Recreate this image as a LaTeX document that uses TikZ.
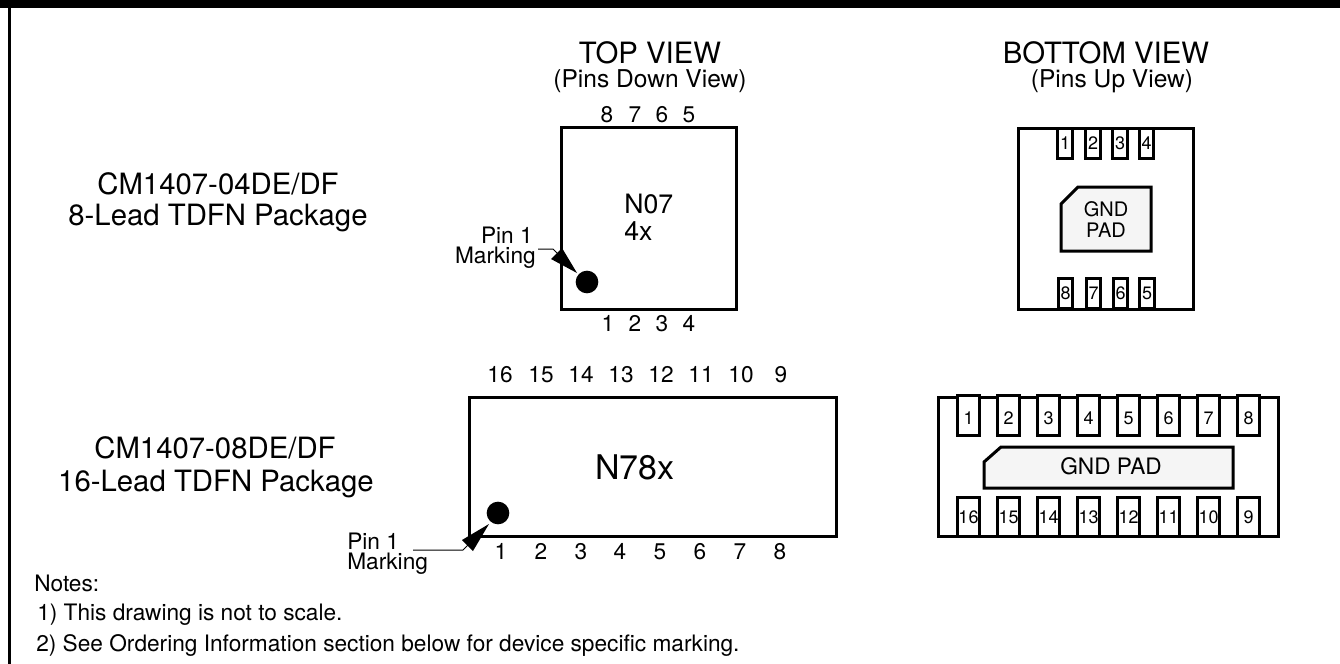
\documentclass[tikz,border=0pt]{standalone}
\usepackage{fontspec}
\setmainfont{TeX Gyre Heros}
\tikzset{
  x=0.75pt,y=-0.75pt,
  outline/.style={draw=black,line width=2.25pt,line join=miter},
  chip/.style={outline,fill=white,inner sep=0pt,outer sep=0pt,rectangle,anchor=north west},
  pinS/.style={outline,fill=white,inner sep=0pt,rectangle,minimum width=10.9pt,minimum height=22.5pt,text width=10.9pt,text height=9.6pt,text depth=0pt,align=center,font=\fontsize{13.5}{15}\selectfont},
  pinB/.style={outline,fill=white,inner sep=0pt,rectangle,minimum width=16.5pt,text width=16.5pt,text height=9.6pt,text depth=0pt,align=center,font=\fontsize{13.5}{15}\selectfont},
  pad/.style={outline,fill=black!4},
  lbl/.style={inner sep=0pt,anchor=base,font=\fontsize{17}{19}\selectfont},
  big/.style={inner sep=0pt,anchor=base,font=\fontsize{22}{24}\selectfont},
  small/.style={inner sep=0pt,anchor=base,font=\fontsize{17}{19}\selectfont},
  subhead/.style={inner sep=0pt,anchor=base,font=\fontsize{18.4}{20}\selectfont},
  leader/.style={draw=black,line width=0.75pt},
  tipmark/.style={fill=black,draw=none},
  dotmark/.style={circle,fill=black,inner sep=0pt,minimum size=17pt},
}
\begin{document}
\begin{tikzpicture}
\useasboundingbox (0,0) rectangle (1340,664);
% frame
\fill[black] (0,0) rectangle (1340,8);
\draw[line width=2.25pt] (9.5,8) -- (9.5,664);
% headings
\node[big] (tv) at (650,63) {TOP VIEW};
\node[subhead] (tvs) at (650,87) {(Pins Down View)};
\node[big] (bv) at (1106,63) {BOTTOM VIEW};
\node[subhead] (bvs) at (1112,87) {(Pins Up View)};
\node[big] (p1a) at (218,194) {CM1407-04DE/DF};
\node[big] (p1b) at (218,225) {8-Lead TDFN Package};
\node[big] (p2a) at (215,458) {CM1407-08DE/DF};
\node[big] (p2b) at (216,491) {16-Lead TDFN Package};
% top view chips
\node[chip,minimum width=131.25pt,minimum height=136.5pt] (topS) at (561,127) {};
\node[chip,minimum width=275.25pt,minimum height=104.25pt] (topB) at (469,397) {};
\node[inner sep=0pt,anchor=base west,font=\fontsize{20}{22}\selectfont] (n07) at (624,213) {N07};
\node[inner sep=0pt,anchor=base west,font=\fontsize{20}{22}\selectfont] (n4x) at (624,240) {4x};
\node[inner sep=0pt,anchor=base,font=\fontsize{25.5}{28}\selectfont] (n78) at (635,479) {N78x};
% pin numbers
\foreach \t/\x in {8/607,7/635,6/662,5/689} \node[lbl] (st\t) at (\x,122) {\t};
\foreach \t/\x in {1/608,2/635,3/662,4/689} \node[lbl] (sb\t) at (\x,331) {\t};
\foreach \t/\x in {16/500,15/541,14/581,13/621,12/661,11/701,10/741,9/781} \node[lbl] (bt\t) at (\x,382) {\t};
\foreach \t/\x in {1/501,2/541,3/581,4/620,5/660,6/700,7/740,8/780} \node[lbl] (bb\t) at (\x,559) {\t};
% pin 1 marks
\node[dotmark] (dotS) at (587,282) {};
\node[dotmark] (dotB) at (498,513) {};
\coordinate (tipS) at (577,273);
\coordinate (tipB) at (489,524);
\fill[tipmark] (tipS) -- (562,248) -- (551,259) -- cycle;
\fill[tipmark] (tipB) -- (462,540) -- (473,551) -- cycle;
\node[small,anchor=base east] (m1a) at (533,243) {Pin 1};
\node[small,anchor=base east] (m1b) at (536,263) {Marking};
\node[small,anchor=base west] (m2a) at (347,549) {Pin 1};
\node[small,anchor=base west] (m2b) at (347,569) {Marking};
\coordinate (lS) at (538,249);
\coordinate (lB) at (413,550);
\draw[leader] (lS) -- (553,249) -- (558,254);
\draw[leader] (lB) -- (463,550) -- (468,545);
% bottom view small
\node[chip,minimum width=131.25pt,minimum height=135.75pt] (botS) at (1018,128) {};
\foreach \t/\x in {1/1065,2/1093,3/1120,4/1146.5} \node[pinS] (ps\t) at (\x,143) {\t};
\foreach \t/\x in {8/1065.5,7/1093.5,6/1120.5,5/1147} \node[pinS] (ps\t) at (\x,293.5) {\t};
\draw[pad] (1061,204) -- (1078,187) -- (1151,187) -- (1151,251) -- (1061,251) -- cycle;
\node[inner sep=0pt,anchor=base,font=\fontsize{15}{17}\selectfont] (gs1) at (1106,216) {GND};
\node[inner sep=0pt,anchor=base,font=\fontsize{15}{17}\selectfont] (gs2) at (1106,237) {PAD};
% bottom view big
\node[chip,minimum width=255pt,minimum height=104.25pt] (botB) at (938,397) {};
\foreach \t/\x in {1/968.5,2/1008.5,3/1048.5,4/1088.5,5/1128.5,6/1168.5,7/1208.5,8/1248.5} \node[pinB,minimum height=30pt] (pb\t) at (\x,415.5) {\raisebox{-2pt}{\t}};
\foreach \t/\x in {16/968.5,15/1008.5,14/1048.5,13/1088.5,12/1128.5,11/1168.5,10/1208.5,9/1248.5} \node[pinB,minimum height=29pt] (pb\t) at (\x,517) {\t};
\draw[pad] (984,462) -- (1001,447) -- (1233,447) -- (1233,488) -- (984,488) -- cycle;
\node[inner sep=0pt,anchor=base,font=\fontsize{17}{19}\selectfont] (gb) at (1111,474) {GND PAD};
% notes
\node[small,anchor=base west] (n0) at (34,591) {Notes:};
\node[small,anchor=base west] (n1) at (37,620) {1) This drawing is not to scale.};
\node[small,anchor=base west] (n2) at (36,651) {2) See Ordering Information section below for device specific marking.};
\end{tikzpicture}
\end{document}
